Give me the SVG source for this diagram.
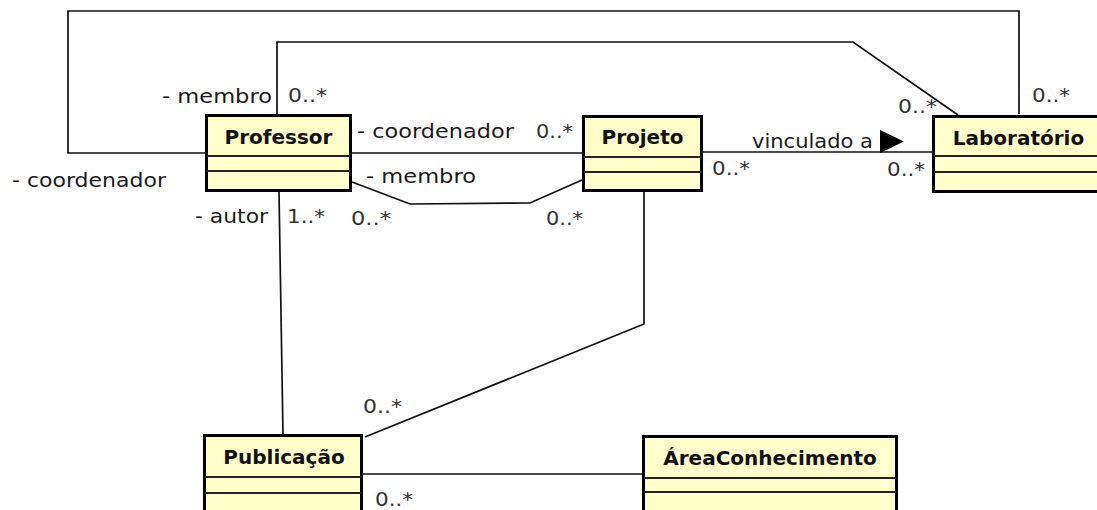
<svg xmlns="http://www.w3.org/2000/svg" width="1097" height="510" viewBox="0 0 1097 510">
  <style>
    .box { fill: #FFFFCA; stroke: #000; stroke-width: 3; }
    .div { stroke: #222; stroke-width: 2; fill: none; }
    .title { font-family: "DejaVu Sans", "Liberation Sans", sans-serif; font-size: 20px; font-weight: bold; fill: #111; text-anchor: middle; }
    .lbl { font-family: "DejaVu Sans", "Liberation Sans", sans-serif; font-size: 20px; fill: #1a1a1a; }
    .mult { font-family: "DejaVu Sans", "Liberation Sans", sans-serif; font-size: 20px; fill: #333; }
    .edge { stroke: #111; stroke-width: 1.7; fill: none; }
  </style>
  <rect width="1097" height="510" fill="#fff"/>

  <!-- associations -->
  <g id="connectors">
    <!-- Professor (coordenador) to Laboratorio, outer loop -->
    <polyline class="edge" points="205,153 68,153 68,11 1019,11 1019,114"/>
    <!-- Professor (membro) to Laboratorio, inner loop -->
    <polyline class="edge" points="277,114 277,42 853,42 958,115"/>
    <!-- Professor coordenador Projeto -->
    <line class="edge" x1="352" y1="153" x2="582" y2="153"/>
    <!-- Professor membro Projeto -->
    <polyline class="edge" points="352,182 410,204 530,203 582,180"/>
    <!-- Projeto vinculado a Laboratorio -->
    <line class="edge" x1="703" y1="152" x2="932" y2="152"/>
    <polygon points="880,130 904,141.5 880,153" fill="#000"/>
    <!-- Professor autor Publicacao -->
    <line class="edge" x1="279" y1="192" x2="283" y2="434"/>
    <!-- Projeto to Publicacao -->
    <polyline class="edge" points="644,192 644,324 365,437"/>
    <!-- Publicacao to AreaConhecimento -->
    <line class="edge" x1="363" y1="474" x2="642" y2="474"/>

    <!-- role names and multiplicities -->
    <text class="lbl" x="162" y="103" textLength="110" lengthAdjust="spacingAndGlyphs">- membro</text>
    <text class="mult" x="288" y="102" textLength="39" lengthAdjust="spacingAndGlyphs">0..*</text>
    <text class="lbl" x="12" y="187" textLength="154" lengthAdjust="spacingAndGlyphs">- coordenador</text>
    <text class="lbl" x="357" y="138" textLength="157" lengthAdjust="spacingAndGlyphs">- coordenador</text>
    <text class="mult" x="536" y="138" textLength="37" lengthAdjust="spacingAndGlyphs">0..*</text>
    <text class="lbl" x="366" y="183" textLength="110" lengthAdjust="spacingAndGlyphs">- membro</text>
    <text class="lbl" x="195" y="223" textLength="73" lengthAdjust="spacingAndGlyphs">- autor</text>
    <text class="mult" x="287" y="223" textLength="38" lengthAdjust="spacingAndGlyphs">1..*</text>
    <text class="mult" x="351" y="225" textLength="40" lengthAdjust="spacingAndGlyphs">0..*</text>
    <text class="mult" x="546" y="225" textLength="37" lengthAdjust="spacingAndGlyphs">0..*</text>
    <text class="lbl" x="752" y="148" textLength="121" lengthAdjust="spacingAndGlyphs">vinculado a</text>
    <text class="mult" x="712" y="175" textLength="38" lengthAdjust="spacingAndGlyphs">0..*</text>
    <text class="mult" x="887" y="176" textLength="38" lengthAdjust="spacingAndGlyphs">0..*</text>
    <text class="mult" x="898" y="113" textLength="39" lengthAdjust="spacingAndGlyphs">0..*</text>
    <text class="mult" x="1032" y="102" textLength="38" lengthAdjust="spacingAndGlyphs">0..*</text>
    <text class="mult" x="363" y="413" textLength="39" lengthAdjust="spacingAndGlyphs">0..*</text>
    <text class="mult" x="375" y="506" textLength="38" lengthAdjust="spacingAndGlyphs">0..*</text>
  </g>

  <g id="Professor">
    <rect class="box" x="206.5" y="115.5" width="144" height="75"/>
    <text class="title" x="278.5" y="144">Professor</text>
    <line class="div" x1="206.5" y1="156" x2="350.5" y2="156"/>
    <line class="div" x1="206.5" y1="171" x2="350.5" y2="171"/>
  </g>

  <g id="Projeto">
    <rect class="box" x="583.5" y="116.5" width="118" height="74"/>
    <text class="title" x="642.5" y="144">Projeto</text>
    <line class="div" x1="583.5" y1="157" x2="701.5" y2="157"/>
    <line class="div" x1="583.5" y1="172" x2="701.5" y2="172"/>
  </g>

  <g id="Laboratorio">
    <rect class="box" x="933.5" y="116.5" width="170" height="75"/>
    <text class="title" x="1018.5" y="145">Laboratório</text>
    <line class="div" x1="933.5" y1="156" x2="1103" y2="156"/>
    <line class="div" x1="933.5" y1="172" x2="1103" y2="172"/>
  </g>

  <g id="Publicacao">
    <rect class="box" x="204.5" y="435.5" width="157" height="90"/>
    <text class="title" x="284" y="464">Publicação</text>
    <line class="div" x1="204.5" y1="477" x2="361.5" y2="477"/>
    <line class="div" x1="204.5" y1="493" x2="361.5" y2="493"/>
  </g>

  <g id="AreaConhecimento">
    <rect class="box" x="643.5" y="436.5" width="253" height="90"/>
    <text class="title" x="770" y="465">ÁreaConhecimento</text>
    <line class="div" x1="643.5" y1="478" x2="896.5" y2="478"/>
    <line class="div" x1="643.5" y1="492" x2="896.5" y2="492"/>
  </g>
</svg>
